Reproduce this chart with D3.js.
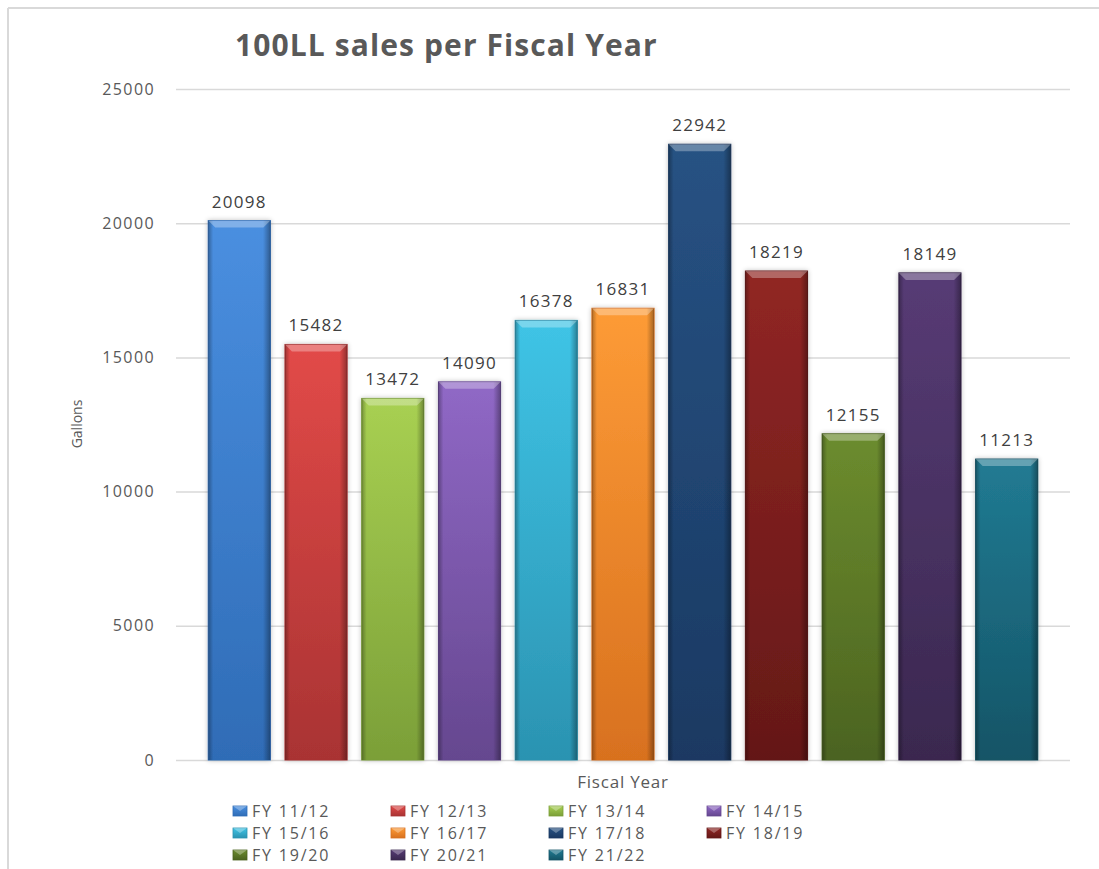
<!DOCTYPE html>
<html lang="en">
  <head>
    <meta charset="UTF-8" />
    <title>100LL sales per Fiscal Year</title>
    <script src="https://d3js.org/d3.v7.min.js"></script>
    <style>
      body { margin: 0; background: #fff; }
      text { font-family: "Open Sans", sans-serif; }
    </style>
  </head>
  <body>
    <svg id="chart" width="1099" height="869"></svg>

    <script>
      const years = ["FY 11/12", "FY 12/13", "FY 13/14", "FY 14/15", "FY 15/16", "FY 16/17",
        "FY 17/18", "FY 18/19", "FY 19/20", "FY 20/21", "FY 21/22"];
      const gallons = [20098, 15482, 13472, 14090, 16378, 16831, 22942, 18219, 12155, 18149, 11213];
      const topColors = ["#4a8fe0", "#e24a48", "#a8d052", "#9068c6", "#3fc4e6", "#fd9b36",
        "#275283", "#912624", "#6c8c2e", "#573b75", "#217b93"];
      const bottomColors = ["#2f6cb6", "#a93333", "#7b9f38", "#65478f", "#2b93b1", "#d8711f",
        "#1a3962", "#641817", "#4b6320", "#3a284f", "#145466"];
      const yTicks = [0, 5000, 10000, 15000, 20000, 25000];

      const svg = d3.select("#chart");
      const defs = svg.append("defs");

      // chart frame (top and left edges only)
      svg.append("line").attr("x1", 8).attr("x2", 1099).attr("y1", 8).attr("y2", 8)
        .attr("stroke", "#d9d9d9").attr("stroke-width", 2);
      svg.append("line").attr("x1", 8).attr("x2", 8).attr("y1", 8).attr("y2", 869)
        .attr("stroke", "#d9d9d9").attr("stroke-width", 2);

      const plotLeft = 176, plotRight = 1070, plotTop = 89, plotBottom = 760;

      const x = d3.scaleBand().domain(years).range([plotLeft, plotRight])
        .paddingInner(0.19).paddingOuter(0.42);
      const y = d3.scaleLinear().domain([0, 25000]).range([plotBottom, plotTop]);

      // gridlines + tick labels
      const yAxis = svg.append("g")
        .attr("transform", `translate(${plotLeft},0)`)
        .call(d3.axisLeft(y).tickValues(yTicks).tickFormat(d3.format("d"))
          .tickSize(-(plotRight - plotLeft)).tickPadding(21));
      yAxis.select(".domain").remove();
      yAxis.selectAll(".tick line").attr("stroke", "#d9d9d9").attr("stroke-width", 1.5);
      yAxis.selectAll(".tick text")
        .attr("fill", "#595959")
        .style("font-family", "'Open Sans', sans-serif")
        .style("font-size", "16px")
        .style("letter-spacing", "1.4px");

      // gradients
      years.forEach((d, i) => {
        const g = defs.append("linearGradient").attr("id", "grad" + i)
          .attr("x1", 0).attr("y1", 0).attr("x2", 0).attr("y2", 1);
        g.append("stop").attr("offset", "0%").attr("stop-color", topColors[i]);
        g.append("stop").attr("offset", "100%").attr("stop-color", bottomColors[i]);
      });
      const edge = defs.append("linearGradient").attr("id", "edge")
        .attr("x1", 0).attr("y1", 0).attr("x2", 1).attr("y2", 0);
      edge.append("stop").attr("offset", "0%").attr("stop-color", "#000").attr("stop-opacity", 0.3);
      edge.append("stop").attr("offset", "8%").attr("stop-color", "#000").attr("stop-opacity", 0);
      edge.append("stop").attr("offset", "88%").attr("stop-color", "#000").attr("stop-opacity", 0);
      edge.append("stop").attr("offset", "100%").attr("stop-color", "#000").attr("stop-opacity", 0.35);

      const shadow = defs.append("filter").attr("id", "shadow")
        .attr("x", "-20%").attr("y", "-5%").attr("width", "140%").attr("height", "110%");
      shadow.append("feGaussianBlur").attr("in", "SourceAlpha").attr("stdDeviation", 2.5).attr("result", "b");
      shadow.append("feComponentTransfer").attr("in", "b").attr("result", "s")
        .append("feFuncA").attr("type", "linear").attr("slope", 0.25);
      const merge = shadow.append("feMerge");
      merge.append("feMergeNode").attr("in", "s");
      merge.append("feMergeNode").attr("in", "SourceGraphic");

      // bars
      const bars = svg.append("g").selectAll("g.bar")
        .data(years.map((d, i) => ({ year: d, value: gallons[i], i })))
        .join("g").attr("class", "bar");

      bars.append("rect")
        .attr("x", (d) => x(d.year))
        .attr("y", (d) => y(d.value))
        .attr("width", x.bandwidth())
        .attr("height", (d) => y(0) - y(d.value))
        .attr("fill", (d) => `url(#grad${d.i})`)
        .attr("stroke", (d) => bottomColors[d.i])
        .attr("stroke-width", 1)
        .attr("filter", "url(#shadow)");

      bars.append("rect")
        .attr("x", (d) => x(d.year))
        .attr("y", (d) => y(d.value))
        .attr("width", x.bandwidth())
        .attr("height", (d) => y(0) - y(d.value))
        .attr("fill", "url(#edge)");

      // top bevel
      bars.append("path")
        .attr("d", (d) => {
          const x0 = x(d.year), x1 = x0 + x.bandwidth(), y0 = y(d.value), h = 7;
          return `M${x0},${y0}L${x1},${y0}L${x1 - h},${y0 + h}L${x0 + h},${y0 + h}Z`;
        })
        .attr("fill", "#fff").attr("fill-opacity", 0.3);

      // value labels
      bars.append("text")
        .attr("x", (d) => x(d.year) + x.bandwidth() / 2)
        .attr("y", (d) => y(d.value) - 13)
        .attr("text-anchor", "middle")
        .attr("fill", "#404040")
        .style("font-size", "17px")
        .style("letter-spacing", "1.3px")
        .text((d) => d.value);

      // title
      svg.append("text")
        .attr("x", 235).attr("y", 56)
        .attr("fill", "#595959")
        .style("font-size", "30px").style("font-weight", "bold")
        .style("letter-spacing", "1.1px")
        .text("100LL sales per Fiscal Year");

      // axis titles
      svg.append("text")
        .attr("transform", "translate(82,424) rotate(-90)")
        .attr("text-anchor", "middle")
        .attr("fill", "#595959")
        .style("font-size", "14px")
        .text("Gallons");

      svg.append("text")
        .attr("x", (plotLeft + plotRight) / 2).attr("y", 788)
        .attr("text-anchor", "middle")
        .attr("fill", "#595959")
        .style("font-size", "17px")
        .style("letter-spacing", "0.8px")
        .text("Fiscal Year");

      // legend, 4 columns
      const legend = svg.append("g").selectAll("g.item")
        .data(years.map((d, i) => ({ year: d, i })))
        .join("g").attr("class", "item")
        .attr("transform", (d) => `translate(${233 + (d.i % 4) * 158},${811 + Math.floor(d.i / 4) * 22})`);

      legend.append("rect")
        .attr("x", 0).attr("y", -5).attr("width", 14).attr("height", 10)
        .attr("fill", (d) => `url(#grad${d.i})`)
        .attr("stroke", (d) => bottomColors[d.i]).attr("stroke-width", 0.8);
      legend.append("path")
        .attr("d", "M0,-5L14,-5L7,0Z")
        .attr("fill", "#fff").attr("fill-opacity", 0.3);
      legend.append("text")
        .attr("x", 19).attr("y", 6)
        .attr("fill", "#595959")
        .style("font-size", "16px")
        .style("letter-spacing", "1.8px")
        .text((d) => d.year);
    </script>
  </body>
</html>
